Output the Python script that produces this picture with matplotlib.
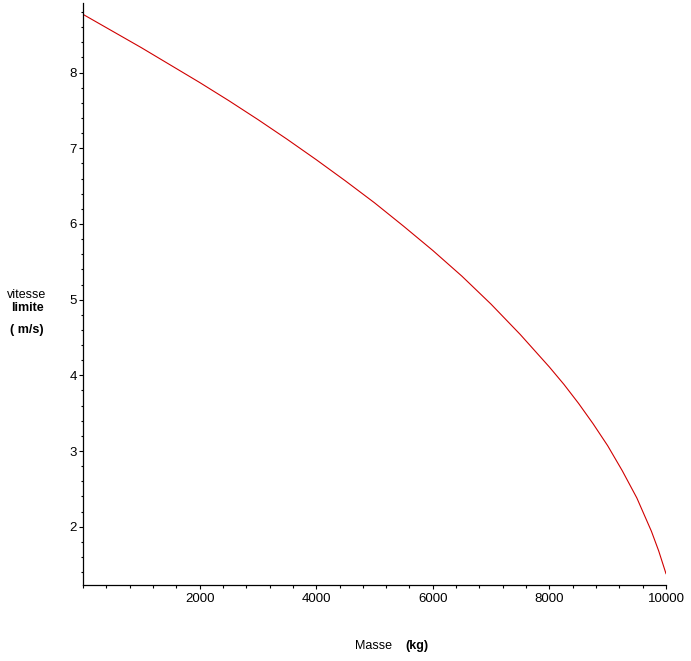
import matplotlib
matplotlib.use("Agg")
import matplotlib.pyplot as plt
from matplotlib.ticker import MultipleLocator

plt.rcParams['font.family'] = ['Liberation Sans', 'DejaVu Sans']

# valeurs
masse = [0, 500, 1000, 1500, 2000, 2500, 3000, 3500, 4000, 4500, 5000,
         5500, 6000, 6500, 7000, 7500, 8000, 8250, 8500, 8750, 9000,
         9250, 9500, 9750, 9875, 10000]
vitesse = [8.77, 8.55, 8.33, 8.10, 7.87, 7.63, 7.38, 7.12, 6.85, 6.57, 6.28,
           5.97, 5.65, 5.31, 4.94, 4.54, 4.11, 3.88, 3.63, 3.36, 3.07,
           2.74, 2.38, 1.94, 1.68, 1.38]
xticks = [2000, 4000, 6000, 8000, 10000]
yticks = [2, 3, 4, 5, 6, 7, 8]

fig = plt.figure(figsize=(6.91, 6.61), dpi=100)
ax = fig.add_axes([0.1201, 0.115, 0.8437, 0.8805])

ax.plot(masse, vitesse, color='#d00000', linewidth=0.8)

ax.set_xlim(0, 10000)
ax.set_ylim(1.23, 8.92)
ax.set_xticks(xticks)
ax.set_yticks(yticks)
ax.xaxis.set_minor_locator(MultipleLocator(400))
ax.yaxis.set_minor_locator(MultipleLocator(0.2))

for side in ['top', 'right']:
    ax.spines[side].set_visible(False)
for side in ['left', 'bottom']:
    ax.spines[side].set_linewidth(0.9)

ax.tick_params(which='major', length=3, width=0.8, labelsize=9.5, pad=1.5)
ax.tick_params(which='minor', length=1.8, width=0.8)
ax.tick_params(axis='x', which='major', pad=3)

# titres des axes
fig.text(0.039, 0.553, "vitesse", fontsize=9, ha='center', va='center')
fig.text(0.039, 0.534, "limite", fontsize=9, ha='center', va='center',
         fontweight='bold')
fig.text(0.039, 0.501, "( m/s)", fontsize=9, ha='center', va='center',
         fontweight='bold')
fig.text(0.541, 0.022, "Masse", fontsize=9, ha='center', va='center')
fig.text(0.603, 0.022, "(kg)", fontsize=9, ha='center', va='center',
         fontweight='bold')

plt.savefig("out.png", dpi=100)
